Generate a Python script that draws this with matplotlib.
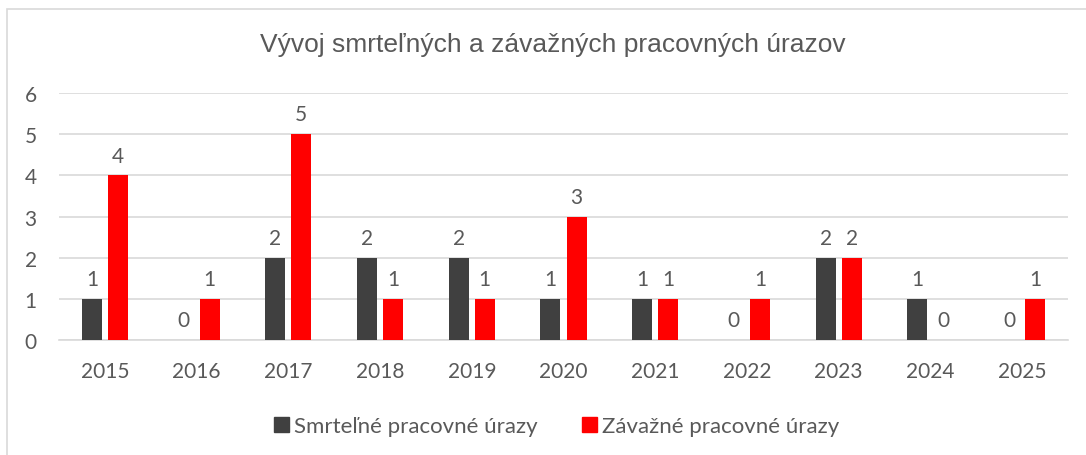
import numpy as np
import matplotlib.pyplot as plt
from matplotlib.patches import Patch, Rectangle

years = ['2015', '2016', '2017', '2018', '2019', '2020', '2021', '2022', '2023', '2024', '2025']
smrtelne = [1, 0, 2, 2, 2, 1, 1, 0, 2, 1, 0]
zavazne = [4, 1, 5, 1, 1, 3, 1, 1, 2, 0, 1]
series_names = ['Smrteľné pracovné úrazy', 'Závažné pracovné úrazy']
title = 'Vývoj smrteľných a závažných pracovných úrazov'

text_col = '#595959'
colors = ['#404040', '#FF0000']
label_font = 'Lato'

fig = plt.figure(figsize=(10.86, 4.56), dpi=100)
W, H = 1086, 456
ax = fig.add_axes([59 / W, (H - 341) / H, (1068 - 59) / W, (341 - 94) / H])

# chart border (only top/left visible in the crop)
fig.patches.append(Rectangle((7 / W, -0.1), 1.2, 1 - 10 / H + 0.1, transform=fig.transFigure,
                             fill=False, edgecolor='#D9D9D9', linewidth=1.2))

x = np.arange(len(years))
w = 0.218
off = 0.142
for vals, dx, c in [(smrtelne, -off, colors[0]), (zavazne, off, colors[1])]:
    bars = ax.bar(x + dx, vals, width=w, color=c, zorder=3)
    for b, v in zip(bars, vals):
        ax.annotate(str(v), (b.get_x() + b.get_width() / 2, v), xytext=(0, 7),
                    textcoords='offset points', ha='center', va='bottom',
                    fontsize=15, color=text_col, family=label_font)

ax.set_xlim(-0.5, len(years) - 0.5)
ax.set_ylim(0, 6)
ax.set_yticks(range(0, 7))
ax.set_xticks(x)
ax.set_xticklabels(years)
ax.yaxis.grid(True, color='#D9D9D9', linewidth=1.2, zorder=0)
ax.set_axisbelow(True)
for s in ['top', 'right', 'left']:
    ax.spines[s].set_visible(False)
ax.spines['bottom'].set_color('#D9D9D9')
ax.spines['bottom'].set_linewidth(1.2)
ax.tick_params(length=0, labelsize=15, labelcolor=text_col)
ax.tick_params(axis='x', pad=15)
ax.tick_params(axis='y', pad=16)
for t in ax.get_xticklabels() + ax.get_yticklabels():
    t.set_family(label_font)

fig.text(553 / W, 1 - 45 / H, title, ha='center', va='center', fontsize=19,
         color=text_col, family='Liberation Sans')

handles = [Patch(color=colors[0]), Patch(color=colors[1])]
leg = fig.legend(handles, series_names, loc='center', bbox_to_anchor=(557 / W, 1 - 427 / H),
                 ncol=2, frameon=False, handlelength=0.65, handleheight=0.65,
                 handletextpad=0.25, columnspacing=2.0,
                 prop={'family': label_font, 'size': 16})
for t in leg.get_texts():
    t.set_color(text_col)

fig.savefig('out.png', dpi=100)
